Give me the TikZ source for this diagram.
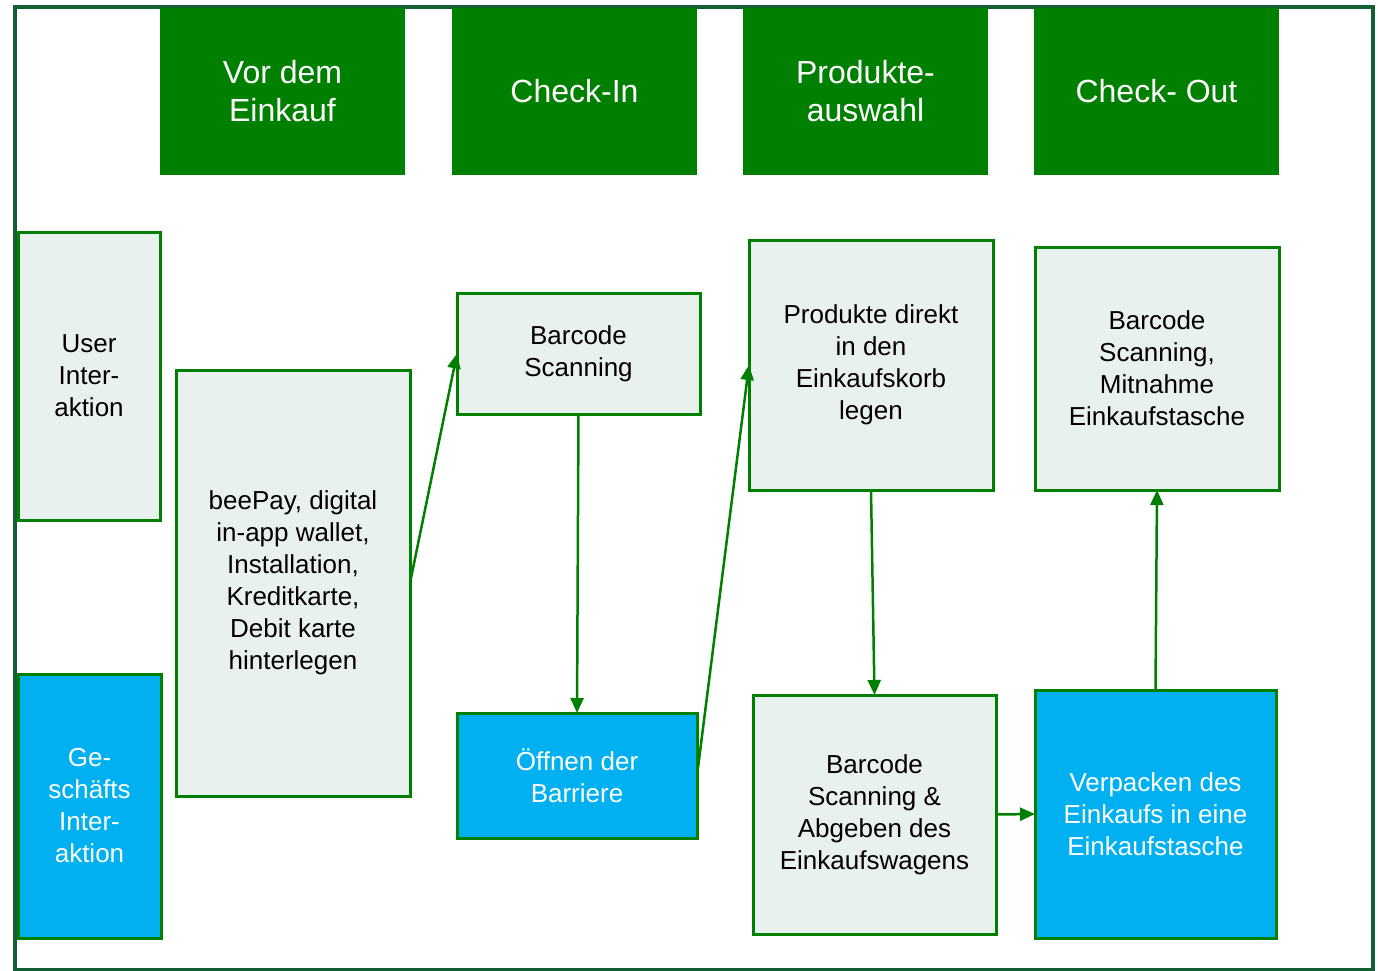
\documentclass[tikz,border=0pt]{standalone}
\usepackage{fontspec}
\setmainfont{Liberation Sans}
\usepackage{tikz}
\usetikzlibrary{arrows.meta}
\definecolor{hdgreen}{HTML}{008000}
\definecolor{framegreen}{HTML}{135E33}
\definecolor{lightbox}{HTML}{E9F1EE}
\definecolor{bizblue}{HTML}{00B0F0}

\begin{document}
\begin{tikzpicture}[x=1pt,y=-1pt,
		head/.style={rectangle,fill=hdgreen,text=white,inner sep=0pt,outer sep=0pt,align=center,
			minimum width=245pt,minimum height=167pt,font=\fontsize{32}{38}\selectfont},
		box/.style={rectangle,draw=hdgreen,line width=3pt,inner sep=0pt,outer sep=0pt,align=center,
			font=\fontsize{26}{32}\selectfont},
		userbox/.style={box,fill=lightbox,text=black},
		bizbox/.style={box,fill=bizblue,text=white},
		flow/.style={draw=hdgreen,line width=2.5pt,-{Triangle[length=15pt,width=13pt]}}]
		\useasboundingbox (0,0) rectangle (1378,971);
		\draw[framegreen,line width=4pt] (15,7) rectangle (1373,970);
		% phases
		\node[head] (vor) at (282.5,91.5) {Vor dem\\Einkauf};
		\node[head] (checkin) at (574.5,91.5) {Check-In};
		\node[head] (auswahl) at (865.5,91.5) {Produkte-\\auswahl};
		\node[head] (checkout) at (1156.5,91.5) {Check- Out};
		% rows
		\node[userbox,minimum width=142pt,minimum height=288pt] (user) at (89,376) {User\\Inter-\\aktion};
		\node[bizbox,minimum width=143pt,minimum height=264pt] (biz) at (89.5,806) {Ge-\\schäfts\\Inter-\\aktion};
		% steps
		\node[userbox,minimum width=234pt,minimum height=426pt] (beepay) at (293,583)
			{beePay, digital\\in-app wallet,\\Installation,\\Kreditkarte,\\Debit karte\\hinterlegen};
		\node[userbox,minimum width=243pt,minimum height=121pt] (scanin) at (578.5,353.5) {Barcode\\Scanning};
		\node[bizbox,minimum width=240pt,minimum height=125pt] (barriere) at (577,775.5) {Öffnen der\\Barriere};
		\node[userbox,minimum width=244pt,minimum height=250pt] (korb) at (871,365)
			{Produkte direkt\\in den\\Einkaufskorb\\legen};
		\node[userbox,minimum width=243pt,minimum height=239pt] (abgeben) at (874.5,814.5)
			{Barcode\\Scanning \&\\Abgeben des\\Einkaufswagens};
		\node[userbox,minimum width=244pt,minimum height=243pt] (mitnahme) at (1157,368.5)
			{Barcode\\Scanning,\\Mitnahme\\Einkaufstasche};
		\node[bizbox,minimum width=241pt,minimum height=248pt] (verpacken) at (1155.5,814)
			{Verpacken des\\Einkaufs in eine\\Einkaufstasche};
		% flow
		\draw[flow] (beepay.east) -- (scanin.west);
		\draw[flow] (scanin.south) -- (barriere.north);
		\draw[flow] (barriere.east) -- (korb.west);
		\draw[flow] (korb.south) -- (abgeben.north);
		\draw[flow] (abgeben.east) -- (verpacken.west);
		\draw[flow] (verpacken.north) -- (mitnahme.south);
\end{tikzpicture}
\end{document}
